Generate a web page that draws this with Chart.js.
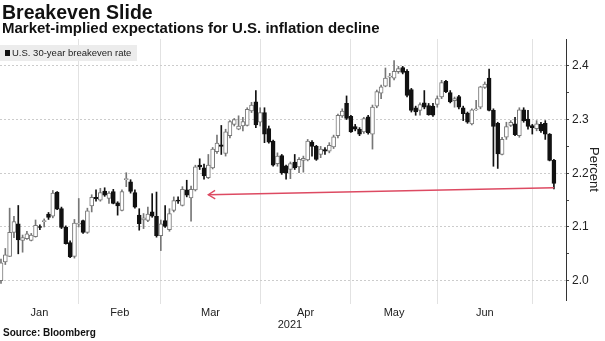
<!DOCTYPE html>
<html>
<head>
<meta charset="utf-8">
<script src="https://cdn.jsdelivr.net/npm/chart.js@4.4.1/dist/chart.umd.min.js"></script>
<style>
  body { margin: 0; background: #fff; font-family: "Liberation Sans", Arial, sans-serif; color: #111; }
  #wrap { position: relative; width: 605px; height: 341px; overflow: hidden; }
  #chart { position: absolute; left: 0; top: 0; }
  .txt { position: absolute; white-space: nowrap; }
  .title { left: 2px; top: 2px; font-size: 19.5px; line-height: 20px; font-weight: bold; }
  .subtitle { left: 2px; top: 20px; font-size: 15px; line-height: 16px; font-weight: bold; }
  .legend { left: 0; top: 45px; width: 137px; height: 16px; background: rgba(234,234,234,0.92); }
  .legend .sw { position: absolute; left: 5px; top: 5px; width: 5px; height: 6px; background: #111; }
  .legend .lbl { position: absolute; left: 12px; top: 0; font-size: 9.5px; line-height: 16px; color: #222; }
  .year { left: 270px; width: 40px; text-align: center; top: 318px; font-size: 11px; line-height: 12px; color: #222; }
  .source { left: 3px; top: 327px; font-size: 10px; line-height: 12px; font-weight: bold; }
</style>
</head>
<body>
<div id="wrap">
  <canvas id="chart" width="605" height="341"></canvas>
  <div class="txt title">Breakeven Slide</div>
  <div class="txt subtitle">Market-implied expectations for U.S. inflation decline</div>
  <div class="txt legend"><span class="sw"></span><span class="lbl">U.S. 30-year breakeven rate</span></div>
  <div class="txt year">2021</div>
  <div class="txt source">Source: Bloomberg</div>
</div>
<script>
// daily OHLC, U.S. 30-year breakeven rate (percent), Jan 4 - Jul 8
const openVals = [
  2.000, 2.035, 2.045, 2.090, 2.106, 2.075, 2.078, 2.075, 2.082, 2.100,
  2.110, 2.124, 2.120, 2.165, 2.134, 2.100, 2.071, 2.045, 2.105, 2.112,
  2.090, 2.139, 2.155, 2.150, 2.167, 2.153, 2.166, 2.145, 2.131, 2.188,
  2.184, 2.164, 2.122, 2.113, 2.112, 2.128, 2.120, 2.084, 2.112, 2.095,
  2.131, 2.150, 2.140, 2.169, 2.154, 2.169, 2.215, 2.210, 2.192, 2.210,
  2.240, 2.253, 2.237, 2.270, 2.291, 2.282, 2.288, 2.289, 2.316, 2.333,
  2.295, 2.313, 2.283, 2.260, 2.218, 2.233, 2.214, 2.207, 2.221, 2.212,
  2.224, 2.225, 2.258, 2.250, 2.235, 2.244, 2.241, 2.249, 2.270, 2.307,
  2.330, 2.306, 2.287, 2.282, 2.277, 2.305, 2.273, 2.325, 2.349, 2.362,
  2.379, 2.377, 2.389, 2.397, 2.390, 2.356, 2.322, 2.317, 2.331, 2.326,
  2.325, 2.328, 2.342, 2.371, 2.350, 2.335, 2.343, 2.322, 2.312, 2.292,
  2.318, 2.323, 2.360, 2.377, 2.317, 2.293, 2.235, 2.267, 2.289, 2.292,
  2.270, 2.318, 2.301, 2.289, 2.283, 2.291, 2.293, 2.273, 2.224
];
const highVals = [
  2.040, 2.060, 2.135, 2.120, 2.140, 2.085, 2.092, 2.088, 2.113, 2.104,
  2.115, 2.127, 2.168, 2.166, 2.137, 2.102, 2.074, 2.114, 2.153, 2.113,
  2.135, 2.160, 2.169, 2.172, 2.173, 2.166, 2.170, 2.147, 2.169, 2.201,
  2.188, 2.169, 2.134, 2.125, 2.137, 2.162, 2.165, 2.113, 2.140, 2.134,
  2.156, 2.156, 2.175, 2.187, 2.176, 2.215, 2.227, 2.217, 2.235, 2.248,
  2.271, 2.289, 2.282, 2.298, 2.302, 2.307, 2.304, 2.322, 2.332, 2.354,
  2.322, 2.322, 2.288, 2.262, 2.238, 2.235, 2.215, 2.221, 2.235, 2.229,
  2.232, 2.263, 2.261, 2.252, 2.250, 2.248, 2.257, 2.271, 2.310, 2.320,
  2.344, 2.308, 2.291, 2.285, 2.304, 2.308, 2.327, 2.355, 2.364, 2.396,
  2.386, 2.410, 2.399, 2.399, 2.393, 2.358, 2.325, 2.331, 2.354, 2.330,
  2.330, 2.344, 2.373, 2.373, 2.354, 2.342, 2.345, 2.325, 2.314, 2.320,
  2.336, 2.362, 2.370, 2.394, 2.320, 2.295, 2.267, 2.295, 2.298, 2.304,
  2.322, 2.322, 2.317, 2.291, 2.298, 2.295, 2.298, 2.274, 2.226
];
const lowVals = [
  1.995, 2.030, 2.045, 2.080, 2.050, 2.053, 2.077, 2.074, 2.081, 2.095,
  2.100, 2.114, 2.117, 2.132, 2.097, 2.068, 2.043, 2.042, 2.100, 2.088,
  2.088, 2.128, 2.148, 2.148, 2.157, 2.144, 2.143, 2.122, 2.130, 2.175,
  2.163, 2.135, 2.094, 2.097, 2.110, 2.118, 2.081, 2.056, 2.099, 2.092,
  2.128, 2.144, 2.139, 2.156, 2.111, 2.167, 2.207, 2.189, 2.190, 2.208,
  2.237, 2.235, 2.232, 2.266, 2.288, 2.281, 2.279, 2.288, 2.313, 2.285,
  2.288, 2.257, 2.256, 2.213, 2.213, 2.198, 2.189, 2.190, 2.207, 2.201,
  2.202, 2.223, 2.232, 2.224, 2.229, 2.235, 2.238, 2.246, 2.266, 2.304,
  2.300, 2.276, 2.279, 2.270, 2.274, 2.273, 2.245, 2.322, 2.339, 2.361,
  2.361, 2.374, 2.386, 2.385, 2.342, 2.314, 2.308, 2.308, 2.320, 2.308,
  2.306, 2.323, 2.339, 2.350, 2.331, 2.323, 2.320, 2.298, 2.293, 2.290,
  2.317, 2.320, 2.358, 2.316, 2.213, 2.209, 2.234, 2.263, 2.287, 2.270,
  2.267, 2.295, 2.282, 2.273, 2.279, 2.276, 2.263, 2.223, 2.171
];
const closeVals = [
  2.033, 2.048, 2.090, 2.110, 2.076, 2.080, 2.087, 2.085, 2.103, 2.099,
  2.112, 2.118, 2.163, 2.133, 2.099, 2.069, 2.044, 2.107, 2.107, 2.090,
  2.130, 2.155, 2.152, 2.164, 2.159, 2.163, 2.144, 2.139, 2.166, 2.190,
  2.166, 2.137, 2.106, 2.117, 2.124, 2.120, 2.084, 2.106, 2.101, 2.125,
  2.149, 2.148, 2.170, 2.159, 2.170, 2.212, 2.212, 2.195, 2.215, 2.245,
  2.256, 2.250, 2.277, 2.296, 2.300, 2.288, 2.296, 2.319, 2.327, 2.290,
  2.313, 2.273, 2.258, 2.215, 2.232, 2.201, 2.200, 2.218, 2.210, 2.226,
  2.228, 2.260, 2.250, 2.226, 2.245, 2.241, 2.252, 2.268, 2.308, 2.316,
  2.302, 2.277, 2.282, 2.273, 2.302, 2.275, 2.323, 2.352, 2.361, 2.377,
  2.381, 2.390, 2.395, 2.388, 2.345, 2.317, 2.314, 2.328, 2.323, 2.309,
  2.308, 2.339, 2.369, 2.352, 2.333, 2.339, 2.323, 2.311, 2.295, 2.318,
  2.320, 2.361, 2.366, 2.317, 2.287, 2.236, 2.263, 2.287, 2.295, 2.272,
  2.318, 2.298, 2.287, 2.285, 2.292, 2.279, 2.273, 2.224, 2.181
];

// x positions are trading-day indexes
const monthNames = ['Jan', 'Feb', 'Mar', 'Apr', 'May', 'Jun'];
const monthMid = [8.9, 27.5, 48.5, 70.5, 91, 112];
const monthStart = [18, 37, 60, 81, 101, 123];
const yTicks = [2.0, 2.05, 2.1, 2.15, 2.2, 2.25, 2.3, 2.35, 2.4];

// red pointer from the latest low back to March
const arrowX = [128, 48];
const arrowY = [2.173, 2.160];

const RED = '#dd4a62';
const UP_LINE = '#777777';
const DOWN = '#111111';
const FONT = '"Liberation Sans", Arial, sans-serif';

const isUp = i => closeVals[i] >= openVals[i];
const isMajor = v => Math.abs(v * 10 - Math.round(v * 10)) < 1e-6;

const arrowHead = {
  id: 'arrowHead',
  afterDatasetsDraw(chart) {
    const pts = chart.getDatasetMeta(2).data;
    const a = pts[pts.length - 2], b = pts[pts.length - 1];
    const ang = Math.atan2(b.y - a.y, b.x - a.x);
    const len = 8, spread = 0.55;
    const ctx = chart.ctx;
    ctx.save();
    ctx.strokeStyle = RED;
    ctx.lineWidth = 1.4;
    ctx.beginPath();
    ctx.moveTo(b.x - len * Math.cos(ang - spread), b.y - len * Math.sin(ang - spread));
    ctx.lineTo(b.x, b.y);
    ctx.lineTo(b.x - len * Math.cos(ang + spread), b.y - len * Math.sin(ang + spread));
    ctx.stroke();
    ctx.restore();
  }
};

new Chart(document.getElementById('chart'), {
  type: 'bar',
  data: {
    datasets: [
      {
        label: 'body',
        order: 1,
        data: openVals.map((o, i) => ({ x: i, y: [o, closeVals[i]] })),
        backgroundColor: openVals.map((o, i) => isUp(i) ? '#ffffff' : DOWN),
        borderColor: openVals.map((o, i) => isUp(i) ? UP_LINE : DOWN),
        borderWidth: 1,
        borderSkipped: false,
        barThickness: 4,
        minBarLength: 1,
        grouped: false
      },
      {
        label: 'wick',
        order: 2,
        data: lowVals.map((l, i) => ({ x: i, y: [l, highVals[i]] })),
        backgroundColor: lowVals.map((l, i) => isUp(i) ? UP_LINE : DOWN),
        barThickness: 1,
        grouped: false
      },
      {
        type: 'line',
        label: 'arrow',
        order: 0,
        data: arrowX.map((x, i) => ({ x: x, y: arrowY[i] })),
        borderColor: RED,
        borderWidth: 1.4,
        pointRadius: 0,
        fill: false,
        tension: 0
      }
    ]
  },
  options: {
    responsive: false,
    animation: false,
    layout: { padding: { top: 39, left: 0, right: 0, bottom: 0 } },
    plugins: {
      legend: { display: false },
      tooltip: { enabled: false }
    },
    scales: {
      x: {
        type: 'linear',
        min: -0.23,
        max: 130.8,
        offset: false,
        afterBuildTicks: s => {
          s.ticks = [...monthStart, ...monthMid].sort((a, b) => a - b).map(v => ({ value: v }));
        },
        afterFit: s => { s.height = 41; },
        border: { display: false },
        grid: {
          offset: false,
          color: c => (c.tick && monthStart.includes(c.tick.value)) ? '#e2e2e2' : 'rgba(0,0,0,0)',
          tickColor: c => (c.tick && monthStart.includes(c.tick.value)) ? '#e2e2e2' : 'rgba(0,0,0,0)',
          tickLength: 4
        },
        ticks: {
          autoSkip: false,
          maxRotation: 0,
          padding: 2,
          color: '#222',
          font: { family: FONT, size: 11 },
          callback: v => {
            const k = monthMid.indexOf(v);
            return k >= 0 ? monthNames[k] : '';
          }
        }
      },
      y: {
        position: 'right',
        min: 1.964,
        max: 2.450,
        afterBuildTicks: s => { s.ticks = yTicks.map(v => ({ value: v })); },
        afterFit: s => { s.width = 39; },
        border: { display: true, color: '#333', width: 1, dash: [2, 2] },
        grid: {
          color: c => (c.tick && isMajor(c.tick.value)) ? '#cccccc' : 'rgba(0,0,0,0)',
          tickColor: '#444',
          tickLength: 3
        },
        ticks: {
          padding: 3,
          color: '#222',
          font: { family: FONT, size: 12 },
          callback: v => isMajor(v) ? v.toFixed(1) : ''
        },
        title: {
          display: true,
          text: 'Percent',
          color: '#222',
          font: { family: FONT, size: 13 },
          padding: { top: 4, bottom: 0 }
        }
      }
    }
  },
  plugins: [arrowHead]
});
</script>
</body>
</html>
